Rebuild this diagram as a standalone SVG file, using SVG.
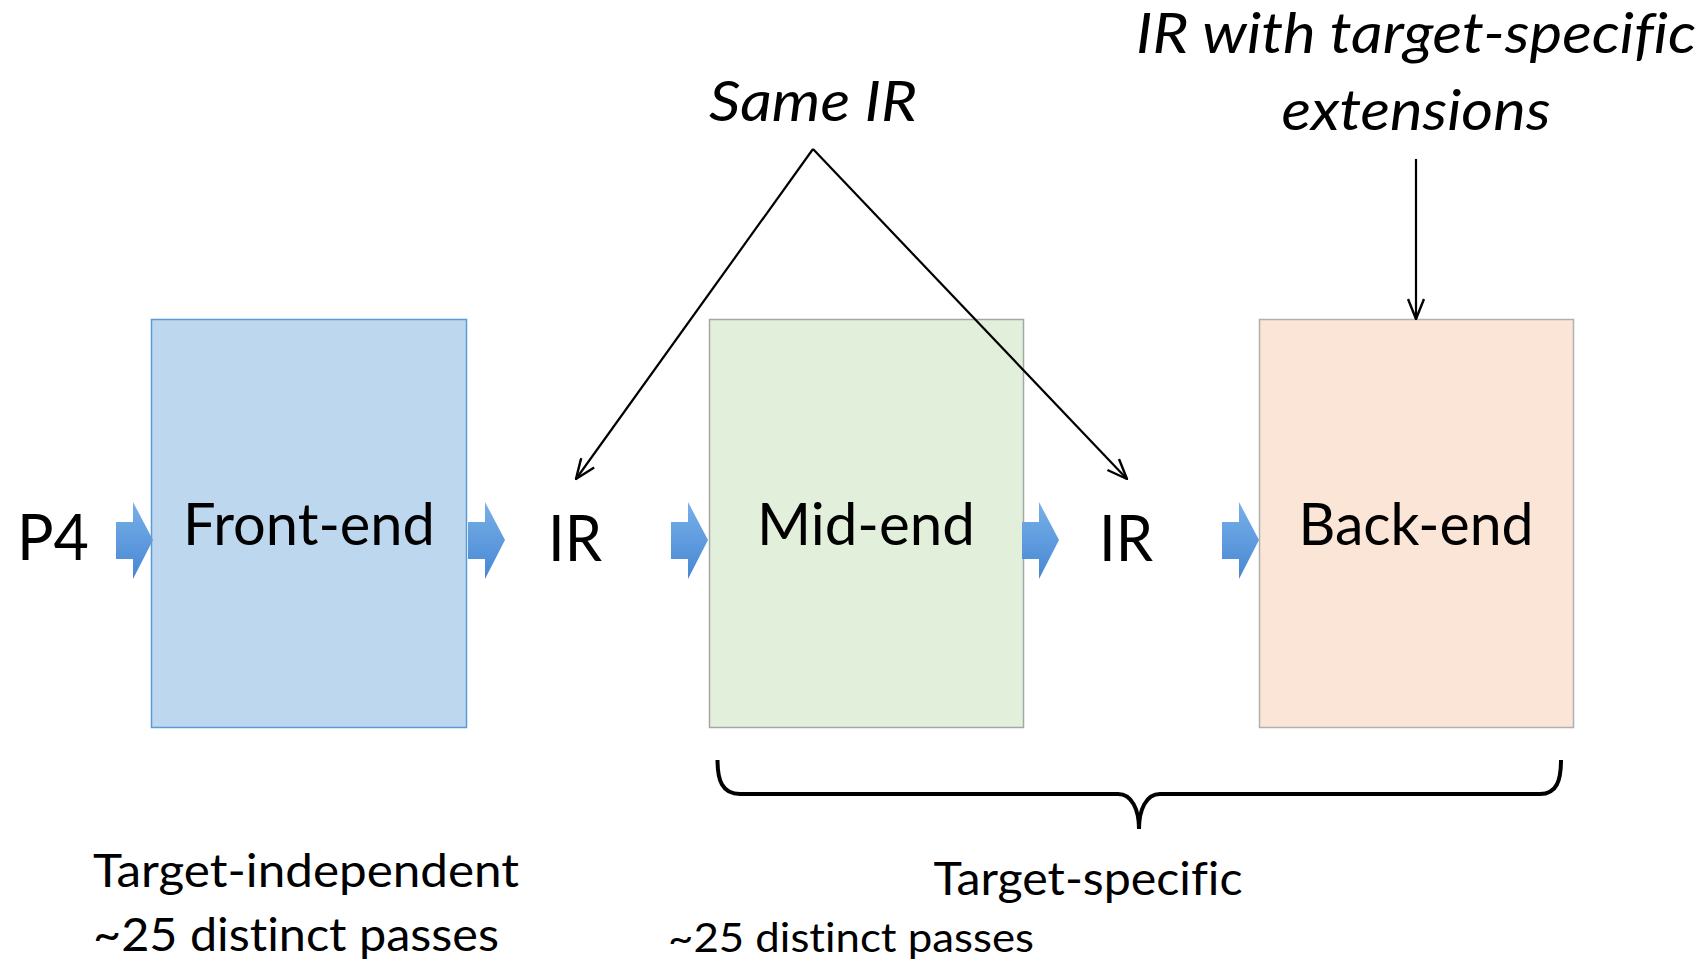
<svg xmlns="http://www.w3.org/2000/svg" width="1708" height="963" viewBox="0 0 1708 963">
<style>
.t{font-family:Lato,"Open Sans","Liberation Sans",sans-serif;fill:#000;font-variant-ligatures:none}
.big{font-size:63px}
.box{font-size:58px}
.it{font-style:italic;font-size:56px}
.sm{font-size:46px}
.sm2{font-size:41px}
.ln{stroke:#000;stroke-width:2.2;fill:none}
</style>
<defs>
<linearGradient id="ag" x1="0" y1="0" x2="0" y2="1">
<stop offset="0" stop-color="#78b0e8"/>
<stop offset="1" stop-color="#4787d3"/>
</linearGradient>
<path id="barrow" d="M0,20 H17 V0 L37,38 L17,77 V57 H0 Z" fill="url(#ag)"/>
<marker id="oa" markerUnits="userSpaceOnUse" viewBox="0 0 22 18" markerWidth="22" markerHeight="18" refX="21" refY="9" orient="auto">
<path d="M1,1 L21,9 L1,17" fill="none" stroke="#000" stroke-width="2.4"/>
</marker>
</defs>
<rect width="1708" height="963" fill="#fff"/>

<g id="frontend">
<rect x="151.5" y="319.5" width="315" height="408" fill="#bdd7ee" stroke="#5b9bd5" stroke-width="1.5"/>
<text class="t box" x="309" y="545" text-anchor="middle" textLength="252" lengthAdjust="spacingAndGlyphs">Front-end</text>
</g>
<g id="midend">
<rect x="709.5" y="319.5" width="314" height="408" fill="#e2efda" stroke="#a6a6a6" stroke-width="1.5"/>
<text class="t box" x="866" y="545" text-anchor="middle" textLength="218" lengthAdjust="spacingAndGlyphs">Mid-end</text>
</g>
<g id="backend">
<rect x="1259.5" y="319.5" width="314" height="408" fill="#fbe5d6" stroke="#b0b0b0" stroke-width="1.5"/>
<text class="t box" x="1416" y="545" text-anchor="middle" textLength="235" lengthAdjust="spacingAndGlyphs">Back-end</text>
</g>
<g id="p4">
<text class="t big" x="17" y="560" textLength="72" lengthAdjust="spacingAndGlyphs">P4</text>
</g>
<g id="ir1">
<text class="t big" x="575" y="561" text-anchor="middle" textLength="54" lengthAdjust="spacingAndGlyphs">IR</text>
</g>
<g id="ir2">
<text class="t big" x="1126" y="561" text-anchor="middle" textLength="54" lengthAdjust="spacingAndGlyphs">IR</text>
</g>
<g id="sameir">
<text class="t it" x="813" y="121" text-anchor="middle" textLength="208" lengthAdjust="spacingAndGlyphs">Same IR</text>
</g>
<g id="irext">
<text class="t it" x="1416" y="53" text-anchor="middle" textLength="560" lengthAdjust="spacingAndGlyphs">IR with target-specific</text>
<text class="t it" x="1416" y="130" text-anchor="middle" textLength="269" lengthAdjust="spacingAndGlyphs">extensions</text>
</g>
<g id="targetindep">
<text class="t sm" x="93" y="887" textLength="426" lengthAdjust="spacingAndGlyphs">Target-independent</text>
<text class="t sm" x="93" y="951" textLength="406" lengthAdjust="spacingAndGlyphs">~25 distinct passes</text>
</g>
<g id="targetspec">
<text class="t sm" x="1088" y="895" text-anchor="middle" textLength="309" lengthAdjust="spacingAndGlyphs">Target-specific</text>
<text class="t sm2" x="668" y="952" textLength="366" lengthAdjust="spacingAndGlyphs">~25 distinct passes</text>
</g>

<g id="connectors">
<use href="#barrow" x="116" y="502"/>
<use href="#barrow" x="468" y="502"/>
<use href="#barrow" x="671" y="502"/>
<use href="#barrow" x="1022" y="502"/>
<use href="#barrow" x="1222" y="502"/>
<line class="ln" x1="813" y1="149" x2="576" y2="479" marker-end="url(#oa)"/>
<line class="ln" x1="813" y1="149" x2="1127" y2="479" marker-end="url(#oa)"/>
<line class="ln" x1="1416" y1="159" x2="1416" y2="319" marker-end="url(#oa)"/>
<path d="M717.5,760 C717.5,780 722,794 740,794 H1118 C1132,794 1139,810 1139,829 C1139,810 1146,794 1160,794 H1540 C1557,794 1561,780 1561,760" fill="none" stroke="#000" stroke-width="4"/>
</g>
</svg>
